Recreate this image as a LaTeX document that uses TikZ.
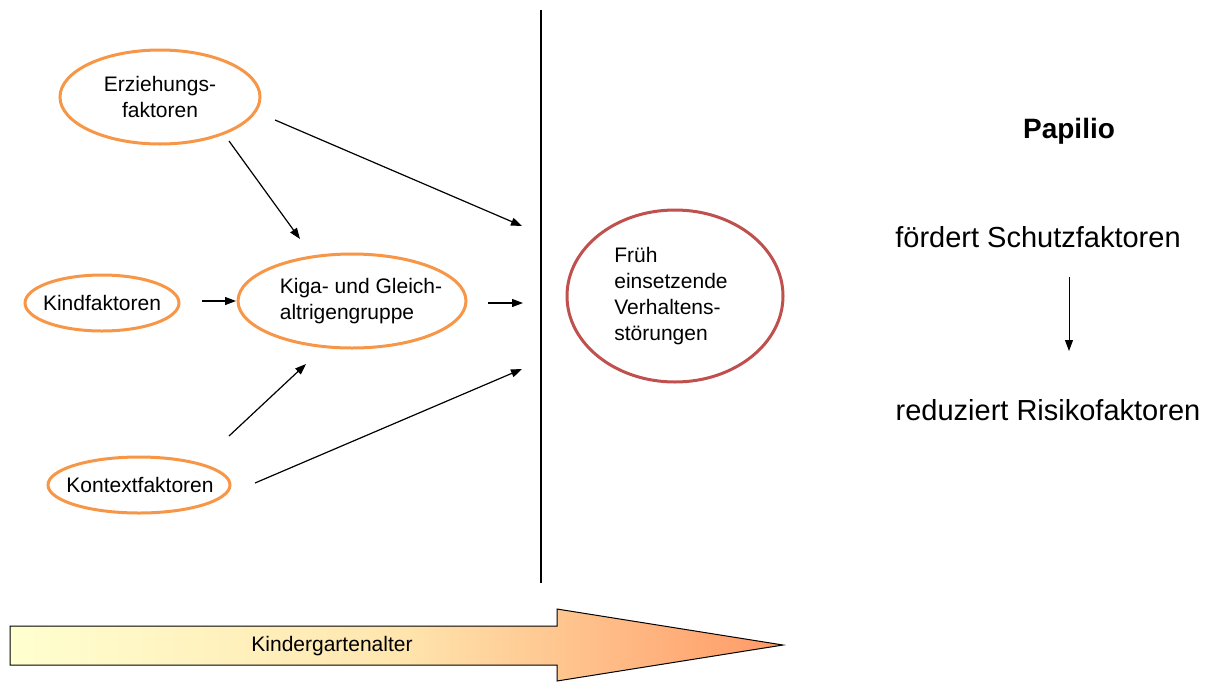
\documentclass[tikz,border=0pt]{standalone}
\usepackage{fontspec}
\setmainfont{Liberation Sans}
\usetikzlibrary{shapes.geometric,arrows.meta}
\definecolor{ora}{HTML}{F79646}
\definecolor{rd}{HTML}{C0504D}
\definecolor{ylw}{HTML}{FFFFD0}
\definecolor{mid}{HTML}{FFE6AE}
\definecolor{org}{HTML}{FF9966}
\begin{document}
\begin{tikzpicture}[x=1pt,y=-1pt,
  lbl/.style={font=\fontsize{21}{26}\selectfont,align=left,inner sep=0pt},
  oval/.style={ellipse,draw=ora,line width=3pt,inner sep=0pt},
  redoval/.style={ellipse,draw=rd,line width=3pt,inner sep=0pt},
  conn/.style={line width=1.2pt,-{Triangle[length=11pt,width=8pt]}},
  txt/.style={font=\fontsize{29}{34}\selectfont,inner sep=0pt}]
\useasboundingbox (0,0) rectangle (1215,681);
% nodes
\node[oval,minimum width=200pt,minimum height=94pt,label={[lbl,align=center]center:Erziehungs-\\faktoren}] (erz) at (160,97) {};
\node[oval,minimum width=154pt,minimum height=56pt,label={[lbl]center:Kindfaktoren}] (kind) at (102,303) {};
\node[oval,minimum width=228pt,minimum height=94pt,label={[lbl,xshift=9pt]center:Kiga- und Gleich-\\altrigengruppe}] (kiga) at (352,301) {};
\node[oval,minimum width=182pt,minimum height=56pt,label={[lbl,xshift=1pt]center:Kontextfaktoren}] (kon) at (139,485) {};
\node[redoval,minimum width=216pt,minimum height=172pt,label={[lbl,xshift=-4pt]center:Früh\\einsetzende\\Verhaltens-\\störungen}] (frueh) at (675,296) {};
% vertical separator
\coordinate (lt) at (541,10);
\coordinate (lb) at (541,583);
\draw[line width=2pt] (lt) -- (lb);
% arrow endpoints
\coordinate (a1s) at (229,141);
\coordinate (a1e) at (300,239);
\coordinate (a2s) at (275,120);
\coordinate (a2e) at (522,226);
\coordinate (a3s) at (202,301);
\coordinate (a3e) at (236,301);
\coordinate (a4s) at (488,303);
\coordinate (a4e) at (523,303);
\coordinate (a5s) at (229,436);
\coordinate (a5e) at (306,364);
\coordinate (a6s) at (255,483);
\coordinate (a6e) at (522,369);
\draw[conn] (a1s) -- (a1e);
\draw[conn] (a2s) -- (a2e);
\draw[conn] (a3s) -- (a3e);
\draw[conn] (a4s) -- (a4e);
\draw[conn] (a5s) -- (a5e);
\draw[conn] (a6s) -- (a6e);
% right side
\node[txt,font=\bfseries\fontsize{28}{32}\selectfont] (pap) at (1069,131) {Papilio};
\node[txt] (foe) at (1038,237) {fördert Schutzfaktoren};
\node[txt] (red) at (1048,410) {reduziert Risikofaktoren};
\coordinate (r1) at (1069,277);
\coordinate (r2) at (1069,351);
\draw[conn,line width=1pt] (r1) -- (r2);
% big arrow
\path[draw=black,line width=1pt,left color=ylw,right color=org,middle color=mid]
  (10,626) -- (557,626) -- (557,609) -- (783,645) -- (557,681) -- (557,665) -- (10,665) -- cycle;
\node[font=\fontsize{21}{26}\selectfont] (ka) at (332,646) {Kindergartenalter};
\end{tikzpicture}
\end{document}
